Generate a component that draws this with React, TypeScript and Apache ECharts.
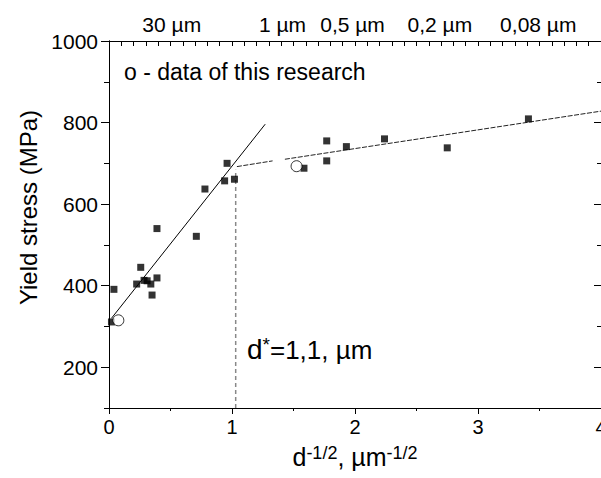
import React, { useEffect, useRef } from "react";
import * as echarts from "echarts";

const X_MIN = 0;
const X_MAX = 4;
const Y_MIN = 100;
const Y_MAX = 1000;
const yMajorTicks = [200, 400, 600, 800, 1000];
const topLabelPositions = [0.51, 1.41, 1.98, 2.69, 3.49];
const topLabelTexts = ["30 µm", "1 µm", "0,5 µm", "0,2 µm", "0,08 µm"];

const squarePoints: number[][] = [
  [0.02, 311], [0.04, 391], [0.225, 404], [0.258, 445], [0.285, 413], [0.31, 412],
  [0.34, 404], [0.35, 377], [0.39, 419], [0.39, 540], [0.71, 521], [0.78, 637],
  [0.94, 657], [0.96, 700], [1.02, 661], [1.585, 688], [1.77, 755], [1.77, 706],
  [1.93, 741], [2.24, 760], [2.75, 738], [3.41, 809],
];
const circlePoints: number[][] = [[0.076, 315], [1.525, 693]];

const fitCoarse: number[][] = [[0.02, 320], [1.27, 796]];
const fitFineA: number[][] = [[1.04, 692], [1.33, 706]];
const fitFineB: number[][] = [[1.43, 710], [4, 828]];
const criticalLine: number[][] = [[1.03, 100], [1.03, 684]];

const FONT = '"Liberation Sans", Arial, sans-serif';

export default function App() {
  const ref = useRef<HTMLDivElement>(null);
  useEffect(() => {
    if (!ref.current) return;
    const chart = echarts.init(ref.current, null, { renderer: "svg" });
    const baseY = {
      type: "value" as const,
      min: Y_MIN,
      max: Y_MAX,
      splitLine: { show: false },
      axisLine: { show: true, lineStyle: { color: "#000", width: 1 } },
    };
    chart.setOption({
      animation: false,
      backgroundColor: "#fff",
      textStyle: { fontFamily: FONT },
      grid: { left: 109, top: 41, width: 492, height: 367, containLabel: false },
      xAxis: [
        {
          type: "value",
          position: "bottom",
          min: X_MIN,
          max: X_MAX,
          interval: 1,
          splitLine: { show: false },
          axisLine: { show: true, onZero: false, lineStyle: { color: "#000", width: 1 } },
          axisTick: { show: true, inside: false, length: 6, lineStyle: { color: "#000" } },
          minorTick: { show: true, splitNumber: 2, length: 3, lineStyle: { color: "#000" } },
          axisLabel: { color: "#000", fontSize: 20, fontFamily: FONT, margin: 9, showMaxLabel: true },
          name: "{b|d}{s|-1/2}{b|, µm}{s|-1/2}",
          nameLocation: "middle",
          nameGap: 36,
          nameTextStyle: {
            color: "#000",
            fontFamily: FONT,
            rich: {
              b: { fontSize: 25, fontFamily: FONT, color: "#000", verticalAlign: "bottom" },
              s: { fontSize: 18, fontFamily: FONT, color: "#000", verticalAlign: "top" },
            },
          },
        },
        {
          type: "value",
          position: "top",
          min: X_MIN,
          max: X_MAX,
          interval: 0.1,
          splitLine: { show: false },
          axisLine: { show: true, onZero: false, lineStyle: { color: "#000", width: 1 } },
          axisTick: { show: true, inside: true, length: 5, lineStyle: { color: "#000" } },
          axisLabel: {
            show: true,
            customValues: topLabelPositions,
            color: "#000",
            fontSize: 21,
            fontFamily: FONT,
            margin: 6,
            formatter: (v: number) => {
              const i = topLabelPositions.findIndex((p) => Math.abs(p - v) < 1e-6);
              return i >= 0 ? topLabelTexts[i] : "";
            },
          },
        },
      ],
      yAxis: [
        {
          ...baseY,
          position: "left",
          interval: 100,
          axisTick: { show: true, inside: false, length: 5, lineStyle: { color: "#000" } },
          axisLabel: { show: false },
        },
        {
          ...baseY,
          position: "left",
          axisTick: { show: true, inside: false, length: 8, customValues: yMajorTicks, lineStyle: { color: "#000" } },
          axisLabel: {
            show: true,
            customValues: yMajorTicks,
            color: "#000",
            fontSize: 21,
            fontFamily: FONT,
            margin: 11,
            formatter: (v: number) => String(v),
          },
          name: "Yield stress (MPa)",
          nameLocation: "middle",
          nameRotate: 90,
          nameGap: 66,
          nameTextStyle: { color: "#000", fontSize: 24, fontFamily: FONT, padding: [0, 0, 0, 34] },
        },
        {
          ...baseY,
          position: "right",
          interval: 100,
          axisTick: { show: true, inside: true, length: 4, lineStyle: { color: "#000" } },
          axisLabel: { show: false },
        },
        {
          ...baseY,
          position: "right",
          axisTick: { show: true, inside: true, length: 7, customValues: yMajorTicks, lineStyle: { color: "#000" } },
          axisLabel: { show: false },
        },
      ],
      series: [
        {
          type: "line",
          data: criticalLine,
          symbol: "none",
          lineStyle: { color: "#888", width: 1.5, type: [4, 3] },
          z: 1,
        },
        {
          type: "line",
          data: fitCoarse,
          symbol: "none",
          lineStyle: { color: "#000", width: 1 },
          z: 2,
        },
        {
          type: "line",
          data: fitFineA,
          symbol: "none",
          lineStyle: { color: "#222", width: 1, type: [5, 1.5] },
          z: 2,
        },
        {
          type: "line",
          data: fitFineB,
          symbol: "none",
          lineStyle: { color: "#222", width: 1, type: [5, 1.5] },
          z: 2,
        },
        {
          type: "scatter",
          data: squarePoints,
          symbol: "rect",
          symbolSize: 7,
          itemStyle: { color: "#000" },
          z: 3,
        },
        {
          type: "scatter",
          data: circlePoints,
          symbol: "circle",
          symbolSize: 11,
          itemStyle: { color: "#fff", borderColor: "#000", borderWidth: 1 },
          z: 4,
        },
      ],
      graphic: [
        {
          type: "text",
          left: 124,
          top: 60,
          style: { text: "o - data of this research", font: `23px ${FONT}`, fill: "#000" },
        },
        {
          type: "text",
          left: 247,
          top: 335,
          style: {
            text: "{d|d}{s|*}{t|=1,1, µm}",
            fill: "#000",
            rich: {
              d: { fontSize: 28, fontFamily: FONT, fill: "#000", verticalAlign: "bottom" },
              s: { fontSize: 19, fontFamily: FONT, fill: "#000", verticalAlign: "top" },
              t: { fontSize: 26, fontFamily: FONT, fill: "#000", verticalAlign: "bottom" },
            },
          },
        },
      ],
    });
    return () => chart.dispose();
  }, []);
  return (
    <div
      ref={ref}
      style={{ position: "fixed", left: 0, top: 0, width: 640, height: 478, background: "#fff" }}
    />
  );
}
